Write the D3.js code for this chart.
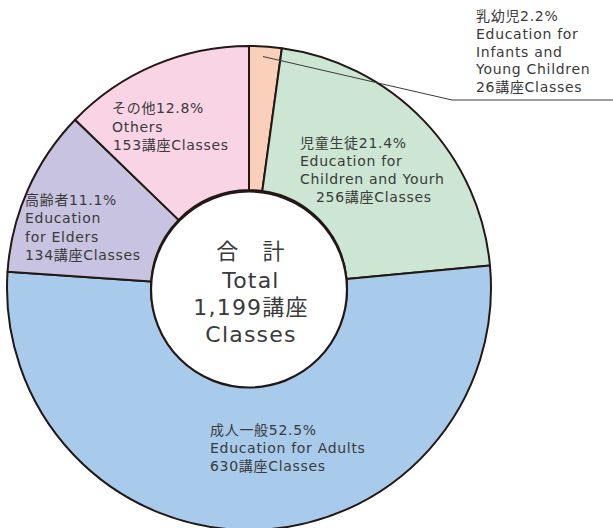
<!DOCTYPE html>
<html><head><meta charset="utf-8">
<script src="https://cdn.jsdelivr.net/npm/d3@7"></script>
<style>
html,body{margin:0;padding:0;background:#fff;}
svg{display:block;}
text{font-family:"DejaVu Sans","Noto Sans CJK JP",sans-serif;fill:#3a3a3a;}
</style></head>
<body>
<script>
// ---- data ----
const categories = ["乳幼児", "児童生徒", "成人一般", "高齢者", "その他"];
const classes = [26, 256, 630, 134, 153];
const percentLabels = ["2.2%", "21.4%", "52.5%", "11.1%", "12.8%"];
const englishLabels = [
  ["Education for", "Infants and", "Young Children"],
  ["Education for", "Children and Yourh"],
  ["Education for Adults"],
  ["Education", "for Elders"],
  ["Others"]
];
const colors = ["#fbd0bb", "#cce6d3", "#a9cbeb", "#c8c3e0", "#f8d4e5"];
const totalLines = ["合　計", "Total", "1,199講座", "Classes"];

// ---- layout ----
const W = 613, H = 528;
const cx = 249, cy = 288, rOuter = 242, rInner = 98;
const labelLayout = [
  {x: 476, y: 16, dy: 17.8, indent: [0,0,0,0,0]},
  {x: 300, y: 143, dy: 18, indent: [0,0,0,16]},
  {x: 210, y: 430, dy: 18, indent: [0,0,0]},
  {x: 25, y: 200, dy: 18.3, indent: [0,0,0,0]},
  {x: 112, y: 108, dy: 18.5, indent: [0,0,1]}
];

const svg = d3.select("body").append("svg").attr("width", W).attr("height", H);
const g = svg.append("g").attr("transform", `translate(${cx},${cy})`);

const pie = d3.pie().sort(null).value(d => d).startAngle(0).endAngle(2*Math.PI);
const arcs = pie(classes);
const arc = d3.arc().innerRadius(rInner).outerRadius(rOuter);

g.selectAll("path.slice").data(arcs).join("path")
  .attr("class", "slice")
  .attr("d", arc)
  .attr("fill", (d, i) => colors[i])
  .attr("stroke", "#231815")
  .attr("stroke-width", 2)
  .attr("stroke-linejoin", "round");

// inner white circle
g.append("circle").attr("cy", 1.5).attr("r", rInner).attr("fill", "#fff")
  .attr("stroke", "#231815").attr("stroke-width", 2.2);

// leader line for the small slice
const a0 = arcs[0];
const mid = (a0.startAngle + a0.endAngle) / 2;
const p0 = [cx + Math.sin(mid) * 235 - 2, cy - Math.cos(mid) * 235 + 3];
svg.append("polyline")
  .attr("points", [p0, [452, 100], [W, 100]].map(p => p.join(",")).join(" "))
  .attr("fill", "none").attr("stroke", "#3a3a3a").attr("stroke-width", 1);

// slice labels
categories.forEach((c, i) => {
  const L = labelLayout[i];
  const lines = [c + percentLabels[i], ...englishLabels[i], classes[i] + "講座Classes"];
  const t = svg.append("text").attr("font-size", 14).attr("letter-spacing", 0.7);
  lines.forEach((ln, j) => {
    t.append("tspan").attr("x", L.x + (L.indent[j] || 0)).attr("y", L.y + j * L.dy)
      .attr("dominant-baseline", "central").text(ln);
  });
});

// center labels
const ct = svg.append("text").attr("font-size", 22).attr("text-anchor", "middle").attr("letter-spacing", 1.2);
const cys = [251, 280, 307, 334];
totalLines.forEach((ln, j) => {
  ct.append("tspan").attr("x", 251).attr("y", cys[j]).attr("dominant-baseline", "central").text(ln);
});
</script>
</body></html>
